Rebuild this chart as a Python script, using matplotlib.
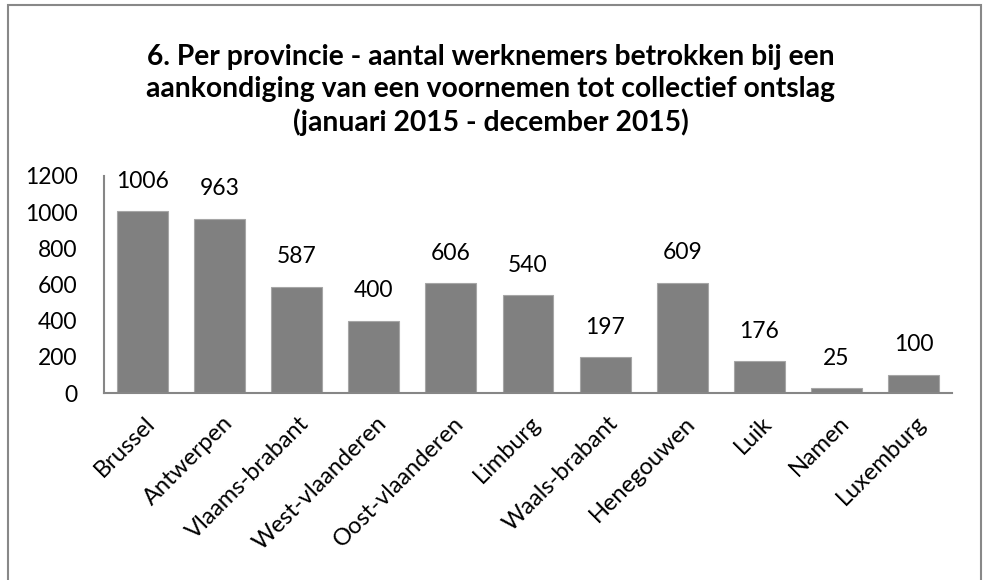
import matplotlib.pyplot as plt
from matplotlib.patches import Rectangle
from matplotlib.transforms import ScaledTranslation

provinces = ['Brussel', 'Antwerpen', 'Vlaams-brabant', 'West-vlaanderen',
             'Oost-vlaanderen', 'Limburg', 'Waals-brabant', 'Henegouwen',
             'Luik', 'Namen', 'Luxemburg']
workers = [1006, 963, 587, 400, 606, 540, 197, 609, 176, 25, 100]
yticks = [0, 200, 400, 600, 800, 1000, 1200]

title = ('6. Per provincie - aantal werknemers betrokken bij een\n'
         'aankondiging van een voornemen tot collectief ontslag\n'
         '(januari 2015 - december 2015)')

plt.rcParams['font.family'] = ['Lato', 'DejaVu Sans']

fig = plt.figure(figsize=(9.83, 5.8), dpi=100)
ax = fig.add_axes([0.1058, 0.3224, 0.8627, 0.3742])

x = range(len(provinces))
bars = ax.bar(x, workers, width=0.66, color='#808080',
              edgecolor='#a6a6a6', linewidth=0.8)
ax.bar_label(bars, labels=[str(v) for v in workers], padding=14,
             fontsize=16.5, color='black')

ax.set_xlim(-0.5, len(provinces) - 0.5)
ax.set_ylim(0, 1200)
ax.set_yticks(yticks)
ax.set_xticks(list(x))
ax.set_xticklabels(provinces, rotation=45, ha='right', va='top',
                   rotation_mode='anchor', fontsize=17)
ax.tick_params(axis='y', length=0, labelsize=16.5, pad=19)
ax.tick_params(axis='x', length=0, pad=14)

# nudge the slanted category labels a little to the right
shift = ScaledTranslation(2 / 100, 0, fig.dpi_scale_trans)
for lbl in ax.get_xticklabels():
    lbl.set_transform(lbl.get_transform() + shift)

for side in ['top', 'right']:
    ax.spines[side].set_visible(False)
for side in ['left', 'bottom']:
    ax.spines[side].set_color('#868686')
    ax.spines[side].set_linewidth(1.5)

fig.text(0.499, 0.845, title, ha='center', va='center', fontsize=20.3,
         fontweight='bold', linespacing=1.3)

# outer chart-area frame
fig.patches.append(Rectangle((8 / 983, -0.05), 973 / 983, 1.05 - 5 / 580,
                             transform=fig.transFigure, fill=False,
                             edgecolor='#888888', linewidth=1.5))

fig.savefig('out.png', dpi=100)
